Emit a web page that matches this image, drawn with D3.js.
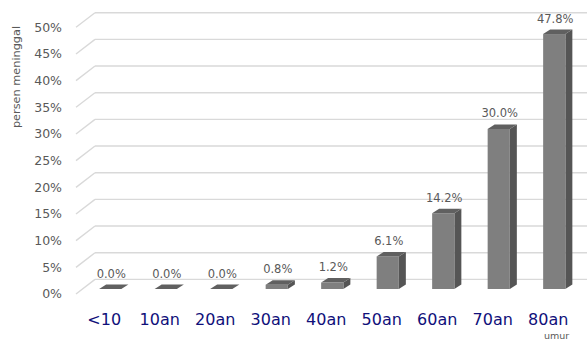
<!DOCTYPE html>
<html><head><meta charset="utf-8">
<script src="https://cdn.jsdelivr.net/npm/d3@7"></script>
<style>body{margin:0;background:#fff}svg{display:block}</style>
</head><body>
<script>
const categories = ["<10","10an","20an","30an","40an","50an","60an","70an","80an"];
const values = [0.0, 0.0, 0.0, 0.8, 1.2, 6.1, 14.2, 30.0, 47.8];
const yTicks = [0,5,10,15,20,25,30,35,40,45,50];
const yTitle = "persen meninggal";
const xTitle = "umur";

const W = 587, H = 339;
const svg = d3.select("body").append("svg").attr("width", W).attr("height", H);

// front plane scales
const x = d3.scaleBand().domain(categories).range([76.5, 576]).paddingInner(0.6).paddingOuter(0.3);
const y = d3.scaleLinear().domain([0, 50]).range([294, 27.3]);
// full depth offset (front -> back wall)
const DX = 19, DY = -14.6;
// bar front offset and bar depth
const bfx = 6, bfy = -5, bdx = 7, bdy = -4.5;

const grid = svg.append("g").attr("stroke", "#d9d9d9").attr("stroke-width", 1.4).attr("fill", "none");
yTicks.forEach(t => {
  const yf = y(t), yb = y(t) + DY;
  grid.append("line").attr("x1", 76 + DX).attr("x2", W).attr("y1", yb).attr("y2", yb);
  grid.append("line").attr("x1", 76).attr("x2", 76 + DX).attr("y1", yf).attr("y2", yb);
});

// y labels
svg.append("g").selectAll("text").data(yTicks).join("text")
  .attr("x", 62).attr("y", d => y(d)).attr("dy", "0.35em")
  .attr("text-anchor", "end")
  .attr("font-family", "DejaVu Sans").attr("font-size", 12.5).attr("fill", "#595959")
  .text(d => d + "%");

// bars
const bars = svg.append("g");
categories.forEach((c, i) => {
  const v = values[i];
  const x0 = x(c) + bfx, x1 = x0 + x.bandwidth();
  const yb = y(0) + bfy, yt = y(v) + bfy;
  const g = bars.append("g");
  g.append("path").attr("fill", "#555555")
    .attr("d", `M${x1},${yb}L${x1 + bdx},${yb + bdy}L${x1 + bdx},${yt + bdy}L${x1},${yt}Z`);
  if (yb - yt > 0.01)
    g.append("rect").attr("x", x0).attr("y", yt).attr("width", x1 - x0).attr("height", yb - yt).attr("fill", "#7f7f7f");
  g.append("path").attr("fill", "#606060")
    .attr("d", `M${x0},${yt}L${x1},${yt}L${x1 + bdx},${yt + bdy}L${x0 + bdx},${yt + bdy}Z`);
  g.append("text").attr("x", (x0 + x1) / 2 + 1).attr("y", yt + bdy - 7)
    .attr("text-anchor", "middle").attr("font-family", "DejaVu Sans").attr("font-size", 11.5)
    .attr("fill", "#595959").text(v.toFixed(1) + "%");
});

// x labels
svg.append("g").selectAll("text").data(categories).join("text")
  .attr("x", d => x(d) + x.bandwidth() / 2).attr("y", 325)
  .attr("text-anchor", "middle").attr("font-family", "DejaVu Sans").attr("font-size", 16)
  .attr("fill", "#10107a").text(d => d);

// axis titles
svg.append("text").attr("transform", "translate(20,77) rotate(-90)")
  .attr("text-anchor", "middle").attr("font-family", "DejaVu Sans").attr("font-size", 11.3)
  .attr("fill", "#595959").text(yTitle);
svg.append("text").attr("x", 544).attr("y", 338.5)
  .attr("font-family", "DejaVu Sans").attr("font-size", 9.5)
  .attr("fill", "#595959").text(xTitle);
</script>
</body></html>
